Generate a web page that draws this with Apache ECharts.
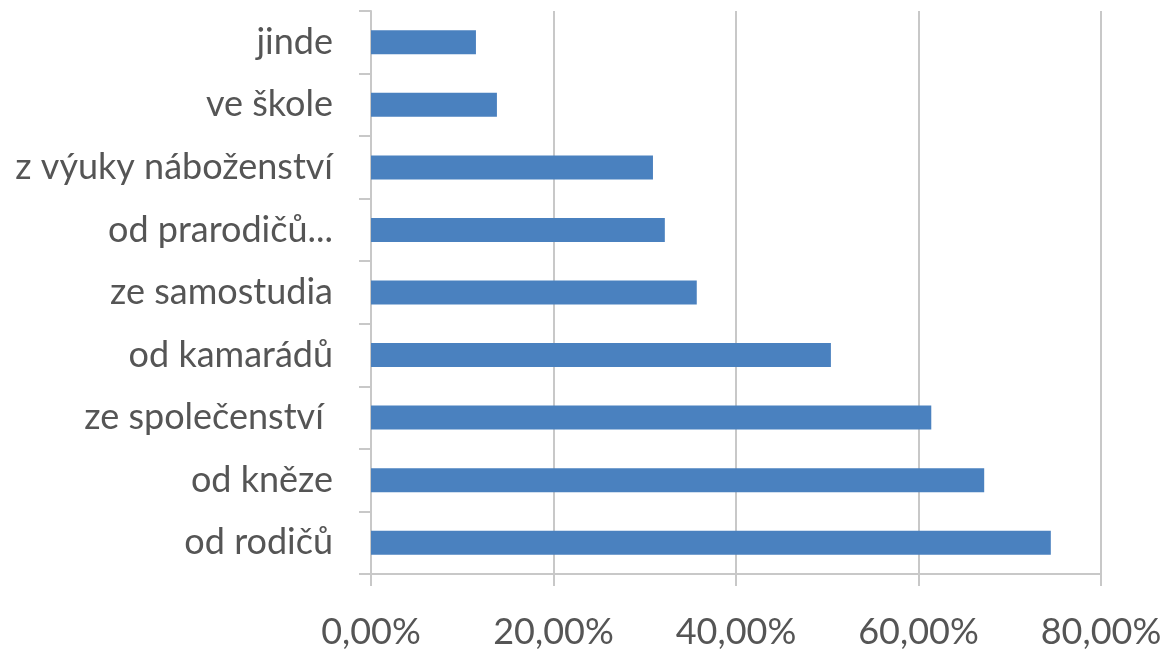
<!DOCTYPE html>
<html>
<head>
<meta charset="utf-8">
<script src="https://cdn.jsdelivr.net/npm/echarts@6/dist/echarts.min.js"></script>
<style>
  html, body { margin: 0; padding: 0; background: #fff; }
</style>
</head>
<body>
<div id="main" style="width: 1166px; height: 653px;"></div>
<script>
// categories from top to bottom, as in the picture
var categories = ['jinde', 've škole', 'z výuky náboženství', 'od prarodičů...', 'ze samostudia', 'od kamarádů', 'ze společenství ', 'od kněze', 'od rodičů']
var shares = [11.5, 13.8, 30.9, 32.2, 35.7, 50.4, 61.4, 67.2, 74.5]
var xTicks = [0, 20, 40, 60, 80]

var chart = echarts.init(document.getElementById('main'))
var option = {
  animation: false,
  grid: {
    left: 371,
    right: 65,
    top: 11,
    bottom: 79
  },
  xAxis: {
    type: 'value',
    min: xTicks[0],
    max: xTicks[xTicks.length - 1],
    interval: 20,
    axisLine: { show: true, lineStyle: { color: '#c8c8c8', width: 2 } },
    axisTick: { show: true, length: 12, lineStyle: { color: '#c8c8c8', width: 2 } },
    splitLine: { show: true, lineStyle: { color: '#c8c8c8', width: 2 } },
    axisLabel: {
      margin: 40,
      fontFamily: 'Lato',
      fontSize: 36,
      color: '#555555',
      formatter: function (v) {
        return v.toFixed(2).replace('.', ',') + '%'
      }
    }
  },
  yAxis: {
    type: 'category',
    inverse: true,
    data: categories,
    axisLine: { show: true, lineStyle: { color: '#c8c8c8', width: 2 } },
    axisTick: { show: true, length: 12, lineStyle: { color: '#c8c8c8', width: 2 } },
    axisLabel: {
      margin: 38,
      fontFamily: 'Lato',
      fontSize: 36,
      color: '#555555'
    }
  },
  series: [
    {
      type: 'bar',
      data: shares,
      barWidth: 24,
      itemStyle: { color: '#4a81bf' }
    }
  ]
}
chart.setOption(option)
</script>
</body>
</html>
